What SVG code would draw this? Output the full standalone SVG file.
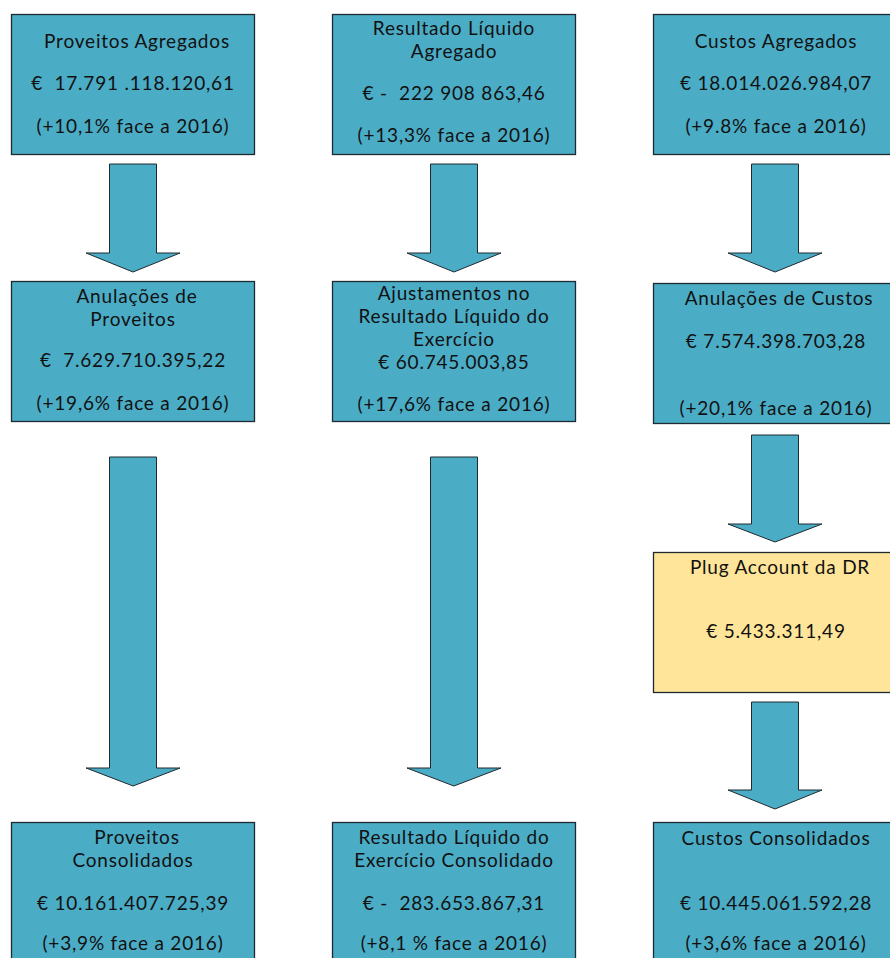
<svg xmlns="http://www.w3.org/2000/svg" width="890" height="958" viewBox="0 0 890 958">
<style>
.box{fill:#4BACC6;stroke:#1e2a30;stroke-width:1.3}
.plug{fill:#FFE599;stroke:#1e2a30;stroke-width:1.3}
.arr{fill:#4BACC6;stroke:#1e2a30;stroke-width:1}
text{font-family:"Lato","Open Sans",sans-serif;font-size:19px;letter-spacing:0.8px;fill:#111;text-anchor:middle}
</style>
<rect width="890" height="958" fill="#fff"/>
<g id="connectors">
<path class="arr" d="M109.5,164 H156.5 V253 H180 L133,272 L86,253 H109.5 Z"/>
<path class="arr" d="M430.5,164 H477.5 V253 H501 L454,272 L407,253 H430.5 Z"/>
<path class="arr" d="M751.5,164 H798.5 V253 H822 L775,272 L728,253 H751.5 Z"/>
<path class="arr" d="M109.5,457 H156.5 V768 H180 L133,786 L86,768 H109.5 Z"/>
<path class="arr" d="M430.5,457 H477.5 V768 H501 L454,786 L407,768 H430.5 Z"/>
<path class="arr" d="M751.5,435 H798.5 V524 H822 L775,542 L728,524 H751.5 Z"/>
<path class="arr" d="M751.5,702 H798.5 V790 H822 L775,809 L728,790 H751.5 Z"/>
</g>
<g id="proveitos-agregados">
<rect class="box" x="11.5" y="14.5" width="243" height="140"/>
<text x="137" y="48" letter-spacing="1.8">Proveitos Agregados</text>
<text x="133" y="90" xml:space="preserve">€  17.791 .118.120,61</text>
<text x="133" y="133">(+10,1% face a 2016)</text>
</g>
<g id="resultado-agregado">
<rect class="box" x="332.5" y="14.5" width="243" height="140"/>
<text x="454" y="35">Resultado Líquido</text>
<text x="454" y="58">Agregado</text>
<text x="454" y="100" xml:space="preserve">€ -  222 908 863,46</text>
<text x="454" y="142">(+13,3% face a 2016)</text>
</g>
<g id="custos-agregados">
<rect class="box" x="653.5" y="14.5" width="243" height="140"/>
<text x="776" y="48" letter-spacing="1.2">Custos Agregados</text>
<text x="776" y="90">€ 18.014.026.984,07</text>
<text x="776" y="133">(+9.8% face a 2016)</text>
</g>
<g id="anulacoes-proveitos">
<rect class="box" x="11.5" y="281.5" width="243" height="140"/>
<text x="137" y="303">Anulações de</text>
<text x="133" y="326">Proveitos</text>
<text x="133" y="367" xml:space="preserve">€  7.629.710.395,22</text>
<text x="133" y="410">(+19,6% face a 2016)</text>
</g>
<g id="ajustamentos">
<rect class="box" x="332.5" y="281.5" width="243" height="140"/>
<text x="454" y="300">Ajustamentos no</text>
<text x="454" y="323">Resultado Líquido do</text>
<text x="454" y="346">Exercício</text>
<text x="454" y="369">€ 60.745.003,85</text>
<text x="454" y="411">(+17,6% face a 2016)</text>
</g>
<g id="anulacoes-custos">
<rect class="box" x="653.5" y="283.5" width="243" height="140"/>
<text x="779" y="305">Anulações de Custos</text>
<text x="776" y="348">€ 7.574.398.703,28</text>
<text x="776" y="415">(+20,1% face a 2016)</text>
</g>
<g id="plug-account">
<rect class="plug" x="653.5" y="552.5" width="243" height="140"/>
<text x="780" y="574">Plug Account da DR</text>
<text x="776" y="638">€ 5.433.311,49</text>
</g>
<g id="proveitos-consolidados">
<rect class="box" x="11.5" y="822.5" width="243" height="150"/>
<text x="137" y="844">Proveitos</text>
<text x="133" y="867">Consolidados</text>
<text x="133" y="910">€ 10.161.407.725,39</text>
<text x="133" y="950">(+3,9% face a 2016)</text>
</g>
<g id="resultado-consolidado">
<rect class="box" x="332.5" y="822.5" width="243" height="150"/>
<text x="454" y="844">Resultado Líquido do</text>
<text x="454" y="867">Exercício Consolidado</text>
<text x="454" y="910" xml:space="preserve">€ -  283.653.867,31</text>
<text x="454" y="950">(+8,1 % face a 2016)</text>
</g>
<g id="custos-consolidados">
<rect class="box" x="653.5" y="822.5" width="243" height="150"/>
<text x="776" y="845">Custos Consolidados</text>
<text x="776" y="910">€ 10.445.061.592,28</text>
<text x="776" y="950">(+3,6% face a 2016)</text>
</g>
</svg>
